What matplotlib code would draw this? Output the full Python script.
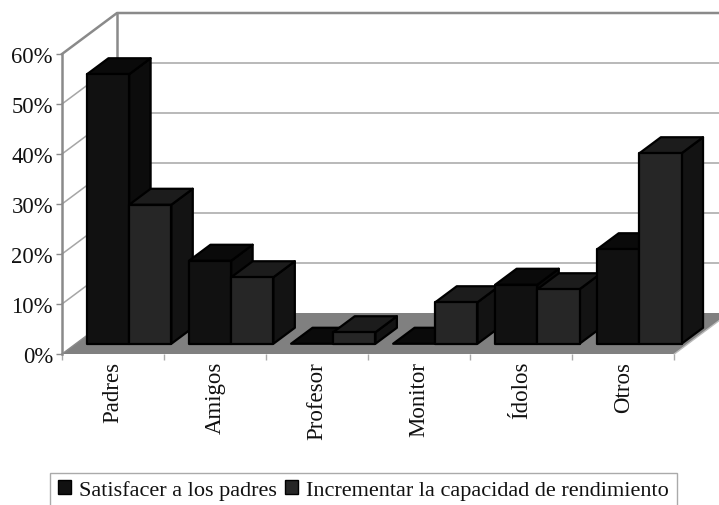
import matplotlib
matplotlib.use('Agg')
import matplotlib.pyplot as plt
from matplotlib.patches import Patch, Polygon

categories = ['Padres', 'Amigos', 'Profesor', 'Monitor', 'Ídolos', 'Otros']
satisfacer = [53.9, 16.6, 0, 0, 11.8, 18.9]
incrementar = [27.8, 13.3, 2.3, 8.3, 10.9, 38.1]
y_ticks = [0, 10, 20, 30, 40, 50, 60]
series_names = ['Satisfacer a los padres', 'Incrementar la capacidad de rendimiento']

plt.rcParams['font.family'] = 'Liberation Serif'
fig = plt.figure(figsize=(7.19, 5.06), dpi=100)
ax = fig.add_axes([62 / 719, 151 / 506, 612.3 / 719, 300 / 506])
ax.set_xlim(0, 6)
ax.set_ylim(0, 60)
ax.patch.set_visible(False)

# depth of the chart box, in data units
DX = 55 / 102.05
DY = 8.2


def proj(x, y, d):
    return (x + d * DX, y + d * DY)


# walls
ax.add_patch(Polygon([proj(0, 0, 0), proj(6, 0, 0), proj(6, 0, 1), proj(0, 0, 1)],
                     fc='#808080', ec='none', clip_on=False, zorder=1))
for v in y_ticks[1:-1]:
    ax.plot(*zip(proj(0, v, 0), proj(0, v, 1), proj(6, v, 1)), color='#a6a6a6', lw=1.1,
            clip_on=False, zorder=1)
ax.plot(*zip(proj(0, 60, 0), proj(0, 60, 1), proj(6, 60, 1)), color='#8a8a8a', lw=1.8,
        clip_on=False, zorder=1)
ax.plot(*zip(proj(0, 60, 1), proj(0, 0, 1)), color='#8a8a8a', lw=1.8, clip_on=False, zorder=1)
ax.plot(*zip(proj(0, 0, 0), proj(0, 0, 1)), color='#8a8a8a', lw=1.0, clip_on=False, zorder=1)
ax.plot(*zip(proj(6, 0, 0), proj(6, 0, 1)), color='#bbbbbb', lw=1.0, clip_on=False, zorder=1)

# bars
D0 = 0.25
D1 = 0.64
PAD = 0.11
W = 0.4133
colors = [('#111111', '#0a0a0a', '#0c0c0c'), ('#262626', '#1c1c1c', '#131313')]


def bar3d(x, v, cols, z):
    front, top, side = cols
    left, right = x, x + W
    kw = dict(ec='black', lw=1.6, clip_on=False, zorder=z, joinstyle='round')
    ax.add_patch(Polygon([proj(right, 0, D0), proj(right, 0, D1), proj(right, v, D1), proj(right, v, D0)], fc=side, **kw))
    ax.add_patch(Polygon([proj(left, v, D0), proj(right, v, D0), proj(right, v, D1), proj(left, v, D1)], fc=top, **kw))
    if v > 0:
        ax.add_patch(Polygon([proj(left, 0, D0), proj(right, 0, D0), proj(right, v, D0), proj(left, v, D0)], fc=front, **kw))


z = 3
for i in range(len(categories)):
    bar3d(i + PAD, satisfacer[i], colors[0], z)
    bar3d(i + PAD + W, incrementar[i], colors[1], z + 1)
    z += 2

# axes
for s in ['top', 'right', 'bottom']:
    ax.spines[s].set_visible(False)
ax.spines['left'].set_color('#8a8a8a')
ax.spines['left'].set_linewidth(1.8)
ax.set_yticks(y_ticks)
ax.set_yticklabels([f'{v}%' for v in y_ticks], fontsize=16.3, color='#111111')
ax.tick_params(axis='y', length=4, width=1, color='#8a8a8a', pad=2.5)
ax.set_xticks(range(7))
ax.set_xticklabels([])
ax.tick_params(axis='x', which='major', length=4.5, width=1, color='#aaaaaa')
ax.set_xticks([i + 0.5 for i in range(6)], minor=True)
ax.set_xticklabels(categories, minor=True, rotation=90, fontsize=16.5, color='#111111')
ax.tick_params(axis='x', which='minor', length=0, pad=5)

handles = [Patch(fc=colors[0][0], ec='black'), Patch(fc=colors[1][0], ec='black')]
fig.legend(handles, series_names, loc='lower left', bbox_to_anchor=(50 / 719, -3 / 506), ncol=2,
           fontsize=16, frameon=True, fancybox=False, edgecolor='#aaaaaa', framealpha=1,
           handlelength=0.6, handleheight=0.6, handletextpad=0.36, columnspacing=0.36,
           borderpad=0.35, borderaxespad=0, labelcolor='#111111')

fig.savefig('out.png', dpi=100)
